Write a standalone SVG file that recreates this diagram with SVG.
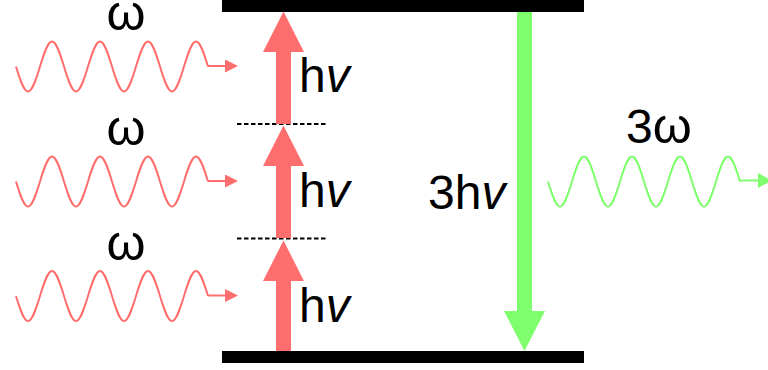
<svg xmlns="http://www.w3.org/2000/svg" width="768" height="370" viewBox="0 0 768 370">
<style>
.lbl{font-family:"Liberation Sans",Arial,sans-serif;font-size:48px;fill:#000}
.om{font-size:50px}
.it{font-style:italic}
.level{fill:#000}
.dash{stroke:#000;stroke-width:2;stroke-dasharray:4.5 2.5;fill:none}
.wr{fill:none;stroke:#ff6e6e;stroke-width:2}
.wg{fill:none;stroke:#80ff6e;stroke-width:2}
.ar{fill:#ff6e6e}
.ag{fill:#80ff6e}
</style>
<defs>
<path id="wave" d="M0,0 c3.913,12.81 7.657,25 12,25 s8.087,-12.19 12,-25 s7.657,-25 12,-25 s8.087,12.19 12,25 s7.657,25 12,25 s8.087,-12.19 12,-25 s7.657,-25 12,-25 s8.087,12.19 12,25 s7.657,25 12,25 s8.087,-12.19 12,-25 s7.657,-25 12,-25 s8.087,12.19 12,25 s7.657,25 12,25 s8.087,-12.19 12,-25 s7.657,-25 12,-25 s8.087,12.19 12,25"/>
<marker id="hr" markerUnits="userSpaceOnUse" markerWidth="14" markerHeight="14" refX="0" refY="6.5" orient="auto" viewBox="0 0 14 14"><path d="M0,0 L13,6.5 L0,13 Z" fill="#ff6e6e"/></marker>
<marker id="hg" markerUnits="userSpaceOnUse" markerWidth="14" markerHeight="16" refX="0" refY="7.5" orient="auto" viewBox="0 0 14 16"><path d="M0,0 L14,7.5 L0,15 Z" fill="#80ff6e"/></marker>
</defs>

<g id="levels">
<rect id="upper-level" class="level" x="222" y="0" width="362" height="12"/>
<rect id="lower-level" class="level" x="222" y="351" width="362" height="12"/>
<line id="virtual-2" class="dash" x1="237" y1="124" x2="328" y2="124"/>
<line id="virtual-1" class="dash" x1="237" y1="238.5" x2="328" y2="238.5"/>
</g>

<g id="photon-in-1">
<g transform="translate(16,66.5)"><use href="#wave" class="wr"/><path class="wr" d="M192,-0.5 H209" marker-end="url(#hr)"/></g>
<text class="lbl om" x="126" y="30" text-anchor="middle">ω</text>
</g>
<g id="photon-in-2">
<g transform="translate(16,181.5)"><use href="#wave" class="wr"/><path class="wr" d="M192,-0.5 H209" marker-end="url(#hr)"/></g>
<text class="lbl om" x="126" y="145" text-anchor="middle">ω</text>
</g>
<g id="photon-in-3">
<g transform="translate(16,296)"><use href="#wave" class="wr"/><path class="wr" d="M192,-0.5 H209" marker-end="url(#hr)"/></g>
<text class="lbl om" x="126" y="260" text-anchor="middle">ω</text>
</g>
<g id="photon-out">
<g transform="translate(548,181.5)"><use href="#wave" class="wg"/><path class="wg" d="M192,-1 H210" marker-end="url(#hg)"/></g>
<text class="lbl" x="626" y="143">3<tspan class="om">ω</tspan></text>
</g>

<g id="connectors">
<polygon id="absorb-1" class="ar" points="276,351 291,351 291,281 304,281 283.5,240.5 263,281 276,281"/>
<polygon id="absorb-2" class="ar" points="276,238 291,238 291,166 304,166 283.5,125.5 263,166 276,166"/>
<polygon id="absorb-3" class="ar" points="276,124 291,124 291,52 304,52 283.5,11.5 263,52 276,52"/>
<polygon id="emit" class="ag" points="517,12 532,12 532,311 545,311 524.5,351 504,311 517,311"/>
</g>

<g id="labels">
<text class="lbl" x="299" y="92">h<tspan class="it">v</tspan></text>
<text class="lbl" x="299" y="207">h<tspan class="it">v</tspan></text>
<text class="lbl" x="299" y="322">h<tspan class="it">v</tspan></text>
<text class="lbl" x="428" y="209">3h<tspan class="it">v</tspan></text>
</g>
</svg>
